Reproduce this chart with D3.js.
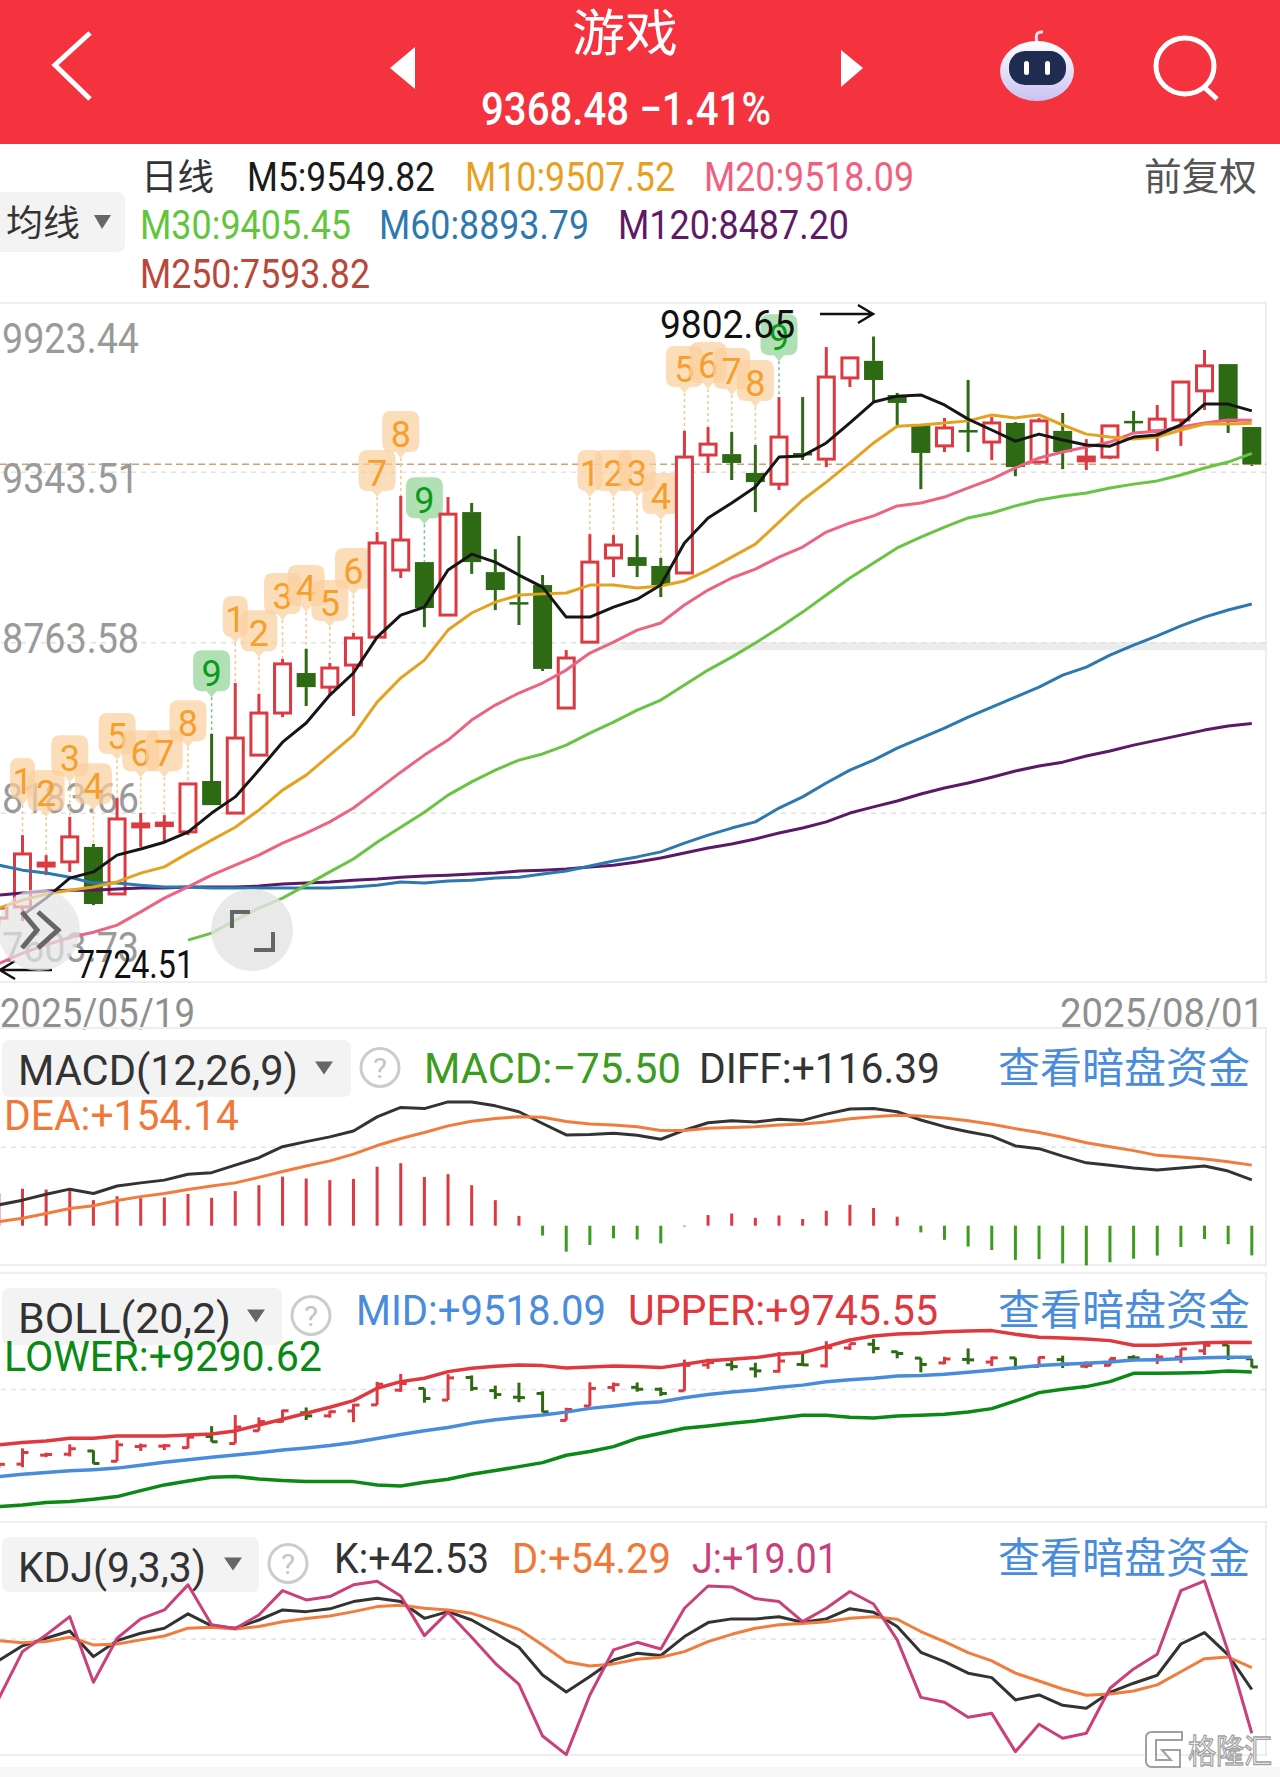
<!DOCTYPE html>
<html>
<head>
<meta charset="utf-8">
<script src="https://cdn.jsdelivr.net/npm/d3@7"></script>
<style>
	html, body { margin: 0; padding: 0; background: #fff; }
	svg { display: block; }
</style>
</head>
<body>
<svg id="canvas" width="1280" height="1777"></svg>
<script>
// every series runs from the half hidden first candle up to 2025/08/01
var open = [7826,7864,8003,8017,8068,7908,8136,8142,8119,8292,8183,8380,8523,8659,8611,8686,8781,9009,9036,8856,9206,9002,8900,8958,8540,8764,9050,9053,9023,8999,9400,9403,9339,9301,9407,9386,9662,9720,9604,9505,9431,9485,9444,9509,9376,9482,9380,9393,9516,9482,9519,9618,9709,9495];
var close = [7860,8044,8013,8102,7874,8163,8146,8149,8282,8210,8438,8523,8690,8611,8676,8778,9101,9111,8880,9199,9036,8941,8894,8673,8710,9036,9094,9023,8958,9393,9437,9373,9308,9461,9400,9665,9730,9655,9577,9407,9492,9478,9509,9359,9516,9410,9393,9499,9509,9522,9648,9703,9512,9368.48];
var high = [7860,8108,8040,8170,8078,8234,8183,8176,8285,8452,8625,8588,8707,8741,8693,8795,9138,9261,9036,9257,9237,9080,9125,8992,8737,9131,9128,9128,9050,9482,9495,9478,9434,9597,9597,9767,9730,9802.65,9611,9505,9526,9655,9529,9512,9526,9543,9454,9499,9550,9570,9648,9757,9709,9495];
var low = [7802,7816,7972,7983,7870,7908,8068,8081,8108,8210,8183,8380,8509,8547,8584,8513,8781,8982,8815,8856,8996,8873,8822,8666,8540,8764,8985,8985,8917,8999,9339,9315,9206,9281,9383,9359,9631,9580,9502,9284,9410,9410,9383,9328,9376,9352,9349,9386,9475,9413,9431,9553,9475,9363];

var m5 = [null,7836,7894,7962,7983,8040,8061,8084,8118,8183,8238,8329,8424,8489,8584,8659,8781,8856,8883,9009,9063,9036,8992,8951,8849,8849,8883,8910,8958,9101,9186,9237,9291,9393,9397,9441,9509,9580,9600,9604,9570,9522,9485,9447,9471,9451,9434,9430,9461,9468,9502,9573,9573,9549.82];
var m10 = [7860,7887,7908,7921,7932,7949,7979,8000,8047,8091,8135,8193,8261,8312,8380,8448,8560,8642,8703,8805,8863,8900,8924,8928,8931,8958,8958,8948,8955,8972,9009,9053,9097,9172,9247,9308,9373,9441,9498,9502,9509,9516,9536,9526,9536,9502,9471,9461,9454,9461,9485,9505,9505,9507.52];
var m20 = [7671,7707,7735,7760,7778,7802,7847,7894,7932,7972,8006,8040,8081,8115,8153,8200,8261,8322,8380,8431,8499,8550,8591,8625,8669,8727,8764,8805,8829,8890,8941,8982,9012,9053,9087,9138,9169,9193,9227,9237,9257,9288,9318,9356,9390,9410,9427,9444,9475,9481,9495,9509,9519,9518.09];
var m30 = [null,null,null,null,null,null,null,null,7751,7775,7819,7860,7894,7938,7983,8027,8084,8135,8186,8244,8289,8329,8363,8384,8414,8455,8492,8533,8567,8618,8669,8713,8761,8812,8866,8924,8982,9033,9084,9121,9155,9186,9203,9227,9247,9261,9271,9288,9301,9312,9332,9356,9376,9405.45];
var m60 = [8006,7989,7979,7965,7945,7945,7938,7932,7932,7928,7928,7928,7928,7928,7928,7932,7938,7949,7945,7952,7955,7962,7965,7976,7986,8003,8020,8034,8051,8081,8108,8132,8153,8200,8238,8285,8329,8363,8404,8438,8472,8509,8543,8577,8611,8652,8679,8720,8754,8785,8819,8849,8873,8893.79];
var m120 = [7904,7911,7918,7921,7921,7925,7928,7928,7932,7932,7932,7935,7942,7945,7949,7955,7959,7965,7969,7972,7976,7979,7986,7989,7993,8000,8006,8017,8030,8047,8064,8078,8095,8115,8132,8153,8183,8204,8224,8248,8268,8285,8305,8326,8343,8356,8377,8394,8414,8431,8448,8465,8479,8487.20];

var diff = [53,65,80,93,82,101,109,116,131,135,154,173,201,214,226,241,277,301,298,315,315,305,290,260,231,232,235,230,220,243,262,267,264,271,268,284,297,298,290,269,252,239,228,203,196,177,160,154,147,142,147,152,139,116.39];
var dea = [10,19,31,44,51,64,74,82,92,101,109,123,138,152,165,182,204,222,237,254,266,273,277,276,265,259,256,252,242,242,248,250,252,256,259,264,272,277,281,279,274,267,258,247,237,225,211,201,191,179,175,170,163,154.14];
var macd = [82,94,92,92,65,75,70,72,81,71,88,103,125,120,116,119,150,159,124,131,103,65,25,-25,-66,-49,-32,-35,-45,-2,27,31,20,26,17,38,53,45,23,-17,-36,-53,-62,-87,-85,-96,-101,-93,-84,-76,-54,-34,-47,-75.50];

var upper = [8161,8197,8223,8264,8264,8300,8300,8300,8316,8331,8378,8470,8558,8651,8744,8847,9038,9141,9193,9296,9348,9379,9399,9389,9353,9368,9384,9374,9358,9410,9466,9487,9513,9564,9590,9683,9786,9848,9879,9890,9915,9926,9931,9874,9828,9817,9802,9776,9704,9704,9724,9745,9750,9745.55];
var lower = [7206,7232,7268,7284,7320,7361,7454,7542,7604,7660,7671,7635,7609,7593,7593,7593,7542,7526,7583,7630,7707,7764,7825,7887,8001,8058,8135,8264,8342,8419,8455,8496,8532,8579,8620,8620,8589,8579,8610,8620,8636,8672,8723,8842,8971,9023,9064,9141,9270,9270,9275,9281,9306,9290.62];

var kdjK = [58.1,66.0,70.1,74.0,60.2,68.8,72.8,75.5,83.2,76.7,75.5,79.9,85.3,84.4,85.9,89.8,91.6,89.8,80.8,84.4,79.9,72.8,65.2,50.3,41.2,49.5,58.4,62.0,60.8,71.0,78.5,80.5,80.5,81.6,78.7,80.5,86.0,84.1,76.4,62.5,57.5,51.3,48.9,36.9,39.6,34.0,32.4,41.0,45.9,50.2,67.0,73.1,61.1,42.53];
var kdjD = [68.8,67.7,68.3,70.6,66.5,67.0,69.2,71.3,75.5,76.0,75.1,76.4,79.0,80.7,82.1,84.4,87.1,87.8,86.2,85.3,83.5,79.4,74.9,66.5,57.5,55.2,56.3,58.8,59.9,62.9,68.3,72.2,75.5,77.3,78.0,79.0,80.8,81.7,80.3,73.7,68.3,62.4,57.9,51.3,47.1,42.8,39.4,40.1,41.7,45.0,52.1,59.1,60.0,54.29];
var kdjJ = [37.8,62.9,71.9,81.7,46.4,70.1,80.5,85.3,98.8,77.3,75.3,82.6,95.7,90.7,92.5,98.8,100.7,92.8,71.5,84.1,70.6,56.6,45.3,17.5,7.5,39.6,63.8,67.9,64.3,86.2,98.2,97.7,91.4,89.8,79.0,86.2,95.2,88.5,69.2,38.3,35.7,27.6,29.7,9.1,23.8,16.3,19.0,43.2,53.6,61.5,95.7,100.9,62.9,19.01];

// numbered tags sitting above the candles, tagPrice is where the tip points at
var tagDay = [0,1,2,3,4,5,6,7,8,9,10,11,12,13,14,15,16,17,24,25,26,27,28,29,30,31,32];
var tagNum = [1,2,3,4,5,6,7,8,9,1,2,3,4,5,6,7,8,9,1,2,3,4,5,6,7,8,9];
var tagPrice = [8210,8170,8288,8193,8363,8305,8305,8407,8577,8761,8713,8839,8866,8815,8924,9257,9390,9165,9257,9257,9257,9179,9611,9624,9604,9563,9719];

var priceTicks = [9923.44,9343.51,8763.58,8183.66,7603.73];
var dateLabels = ["2025/05/19","2025/08/01"];

var RED = "#dc3a42", DARK_GREEN = "#2e6a14", BAR_GREEN = "#3c9c20";
var LATIN = "Roboto, sans-serif", CJK = "'Noto Sans CJK SC', sans-serif";
var RIGHT = 1266;

var svg = d3.select("#canvas");
var days = d3.range(54);

var x = d3.scaleLinear().domain([0, 53]).range([-1.14, 1251.8]);
var y = d3.scaleLinear().domain([7603.73, 9923.44]).range([983.5, 301]);
var yMacd = d3.scaleLinear().domain([-100, 498]).range([1265, 1030]);
var yBoll = d3.scaleLinear().domain([7200, 10823]).range([1507, 1273]);
var yKdj = d3.scaleLinear().domain([7.3, 132.6]).range([1755, 1522]);

// label with its width pinned, the screenshot text is squeezed sideways
function label(px, baseline, str, size, color, width, family) {
	var t = svg.append("text")
		.attr("x", px).attr("y", baseline)
		.attr("font-family", family || LATIN)
		.attr("font-size", size)
		.attr("fill", color)
		.text(str);
	if (width) {
		t.attr("textLength", width).attr("lengthAdjust", "spacingAndGlyphs");
	}
	return t;
}

function drawLine(values, scale, color, width) {
	var line = d3.line()
		.defined(function(d) { return values[d] !== null; })
		.x(function(d) { return x(d); })
		.y(function(d) { return scale(values[d]); });
	svg.append("path")
		.attr("d", line(days))
		.attr("fill", "none")
		.attr("stroke", color)
		.attr("stroke-width", width)
		.attr("stroke-linejoin", "round");
}

function grid(scale, values) {
	var axis = d3.axisLeft(scale).tickValues(values).tickSize(RIGHT).tickFormat("");
	var g = svg.append("g").attr("transform", "translate(" + RIGHT + ",0)").call(axis);
	g.select(".domain").remove();
	g.selectAll("line")
		.attr("stroke", "#e2e2e2")
		.attr("stroke-width", 1.5)
		.attr("stroke-dasharray", "5 5");
}

function panelFrame(top, bottom) {
	svg.append("rect")
		.attr("x", -3).attr("y", top)
		.attr("width", RIGHT + 3).attr("height", bottom - top)
		.attr("fill", "none")
		.attr("stroke", "#eeeeee")
		.attr("stroke-width", 2);
}

function dropdown(boxW, top, boxH, str, textW, baseline, triX, helpX) {
	svg.append("rect")
		.attr("x", 2).attr("y", top)
		.attr("width", boxW).attr("height", boxH)
		.attr("rx", 7)
		.attr("fill", "#f3f3f3");
	label(18, baseline, str, 43, "#333333", textW);
	var my = top + boxH / 2 - 1;
	svg.append("path")
		.attr("d", "M" + (triX - 9) + " " + (my - 6) + "L" + (triX + 9) + " " + (my - 6) + "L" + triX + " " + (my + 7) + "Z")
		.attr("fill", "#666666");
	svg.append("circle")
		.attr("cx", helpX).attr("cy", my)
		.attr("r", 19)
		.attr("fill", "#fff")
		.attr("stroke", "#cccccc")
		.attr("stroke-width", 3);
	label(helpX - 7, my + 10, "?", 28, "#c4c4c4", 14);
}

function moneyLink(baseline) {
	label(998, baseline, "查看暗盘资金", 42, "#4a8cdc", 252, CJK);
}

function tagPath(cx, tip, w) {
	var h = 47, r = 9, t = 6;
	var l = cx - w / 2, rr = cx + w / 2, top = tip - h, bot = tip - t;
	return "M" + (l + r) + " " + top +
		"L" + (rr - r) + " " + top +
		"Q" + rr + " " + top + " " + rr + " " + (top + r) +
		"L" + rr + " " + (bot - r) +
		"Q" + rr + " " + bot + " " + (rr - r) + " " + bot +
		"L" + (cx + 5) + " " + bot +
		"L" + cx + " " + tip +
		"L" + (cx - 5) + " " + bot +
		"L" + (l + r) + " " + bot +
		"Q" + l + " " + bot + " " + l + " " + (bot - r) +
		"L" + l + " " + (top + r) +
		"Q" + l + " " + top + " " + (l + r) + " " + top + "Z";
}

// ---- header ----
svg.append("rect").attr("width", 1280).attr("height", 144).attr("fill", "#f4333e");
label(572, 51, "游戏", 50, "#fff", 106, CJK);
label(481, 125, "9368.48 −1.41%", 46, "#fff", 290).attr("font-weight", 500);

svg.append("path").attr("d", "M90 33L55 65L90 99").attr("fill", "none").attr("stroke", "#fff").attr("stroke-width", 5);
svg.append("path").attr("d", "M415 47L390 68L415 89Z").attr("fill", "#fff");
svg.append("path").attr("d", "M841 50L863 68L841 87Z").attr("fill", "#fff");

// robot
var robotFill = svg.append("defs").append("linearGradient").attr("id", "robot").attr("x2", 0).attr("y2", 1);
robotFill.append("stop").attr("offset", "0").attr("stop-color", "#ffffff");
robotFill.append("stop").attr("offset", "1").attr("stop-color", "#c9c2f2");
svg.append("path").attr("d", "M1037 42Q1034 31 1043 32").attr("fill", "none").attr("stroke", "#e8e4fb").attr("stroke-width", 3);
svg.append("ellipse").attr("cx", 1037).attr("cy", 71).attr("rx", 37).attr("ry", 30).attr("fill", "url(#robot)");
svg.append("rect").attr("x", 1009).attr("y", 51).attr("width", 57).attr("height", 34).attr("rx", 16).attr("fill", "#1f2c52");
svg.append("rect").attr("x", 1024).attr("y", 61).attr("width", 5).attr("height", 14).attr("rx", 2.5).attr("fill", "#fff");
svg.append("rect").attr("x", 1045).attr("y", 61).attr("width", 5).attr("height", 14).attr("rx", 2.5).attr("fill", "#fff");

// search
svg.append("ellipse").attr("cx", 1185).attr("cy", 66).attr("rx", 29).attr("ry", 28).attr("fill", "none").attr("stroke", "#fff").attr("stroke-width", 5);
svg.append("path").attr("d", "M1204 87L1217 99").attr("stroke", "#fff").attr("stroke-width", 5);

// ---- legends of the main panel ----
label(141, 190, "日线", 36, "#333333", 73, CJK);
label(247, 191, "M5:9549.82", 40, "#1a1a1a", 188);
label(465, 191, "M10:9507.52", 40, "#e8a11f", 210);
label(704, 191, "M20:9518.09", 40, "#f0607e", 210);
label(1144, 190, "前复权", 38, "#555555", 113, CJK);

svg.append("rect").attr("x", -8).attr("y", 192).attr("width", 133).attr("height", 60).attr("rx", 7).attr("fill", "#f3f3f3");
label(6, 236, "均线", 36, "#333333", 74, CJK);
svg.append("path").attr("d", "M94 215L111 215L102 229Z").attr("fill", "#666666");

label(140, 239, "M30:9405.45", 40, "#62c63c", 211);
label(379, 239, "M60:8893.79", 40, "#2e78b0", 210);
label(618, 239, "M120:8487.20", 40, "#5e1a66", 231);
label(140, 288, "M250:7593.82", 40, "#b8483a", 230);

// ---- main panel ----
panelFrame(303, 982);

var fade = svg.append("defs").append("linearGradient").attr("id", "band");
fade.append("stop").attr("offset", "0").attr("stop-color", "#ececec").attr("stop-opacity", 0);
fade.append("stop").attr("offset", "0.06").attr("stop-color", "#ececec").attr("stop-opacity", 1);
svg.append("rect")
	.attr("x", 590).attr("y", y(8763.58))
	.attr("width", RIGHT - 590).attr("height", 8)
	.attr("fill", "url(#band)");

grid(y, priceTicks.slice(1, 4));

svg.append("line")
	.attr("x1", 0).attr("x2", RIGHT)
	.attr("y1", y(close[53])).attr("y2", y(close[53]))
	.attr("stroke", "#c9a377")
	.attr("stroke-width", 1.5)
	.attr("stroke-dasharray", "7 4");

var labelShift = [52, 21, 11, 0, -22];
priceTicks.forEach(function(t, i) {
	label(2, y(t) + labelShift[i], d3.format(".2f")(t), 42, "#9a9a9a", 137);
});

// tags and their dashed leaders
tagDay.forEach(function(d, i) {
	var day = d + 1;
	var green = tagNum[i] === 9;
	var tip = y(tagPrice[i]);
	svg.append("line")
		.attr("x1", x(day)).attr("x2", x(day))
		.attr("y1", tip).attr("y2", y(high[day]))
		.attr("stroke", green ? "#7cbf8a" : "#f6c78e")
		.attr("stroke-width", 1.5)
		.attr("stroke-dasharray", "3 3");
	svg.append("path")
		.attr("d", tagPath(x(day), tip, tagNum[i] === 1 ? 25 : 37))
		.attr("fill", green ? "#a5dba8" : "#fbcf9c")
		.attr("fill-opacity", green ? 0.85 : 0.7);
	svg.append("text")
		.attr("x", x(day)).attr("y", tip - 11)
		.attr("text-anchor", "middle")
		.attr("font-family", LATIN)
		.attr("font-size", 36)
		.attr("fill", green ? "#0b9a1c" : "#f5a02e")
		.text(tagNum[i]);
});

// candles
var candle = svg.append("g").selectAll("g").data(days).enter().append("g");

candle.append("line")
	.attr("x1", function(d) { return x(d); })
	.attr("x2", function(d) { return x(d); })
	.attr("y1", function(d) { return y(high[d]); })
	.attr("y2", function(d) { return y(Math.max(open[d], close[d])); })
	.attr("stroke", function(d) { return close[d] >= open[d] ? RED : DARK_GREEN; })
	.attr("stroke-width", 3);
candle.append("line")
	.attr("x1", function(d) { return x(d); })
	.attr("x2", function(d) { return x(d); })
	.attr("y1", function(d) { return y(Math.min(open[d], close[d])); })
	.attr("y2", function(d) { return y(low[d]); })
	.attr("stroke", function(d) { return close[d] >= open[d] ? RED : DARK_GREEN; })
	.attr("stroke-width", 3);
candle.append("rect")
	.attr("x", function(d) {
		return x(d) - (close[d] >= open[d] ? 8 : 9.5);
	})
	.attr("y", function(d) { return y(Math.max(open[d], close[d])); })
	.attr("width", function(d) { return close[d] >= open[d] ? 16 : 19; })
	.attr("height", function(d) { return Math.max(2.5, Math.abs(y(open[d]) - y(close[d]))); })
	.attr("fill", function(d) {
		if (close[d] < open[d]) return DARK_GREEN;
		return Math.abs(y(open[d]) - y(close[d])) < 6 ? RED : "#fff";
	})
	.attr("stroke", function(d) { return close[d] >= open[d] ? RED : "none"; })
	.attr("stroke-width", 3);

drawLine(m120, y, "#5a1a66", 3);
drawLine(m60, y, "#2e78b0", 3);
drawLine(m30, y, "#68c442", 3);
drawLine(m20, y, "#ec6480", 3);
drawLine(m10, y, "#e5a21f", 3);
drawLine(m5, y, "#161616", 3);

// extremes with arrows
label(660, 338, "9802.65", 39, "#111111", 135);
svg.append("path").attr("d", "M820 314L873 314M858 305L873 314L858 323").attr("fill", "none").attr("stroke", "#111111").attr("stroke-width", 2.5);
label(77, 978, "7724.51", 39, "#111111", 117);
svg.append("path").attr("d", "M52 970L0 970M15 961L0 970L15 979").attr("fill", "none").attr("stroke", "#111111").attr("stroke-width", 2.5);

// round floating buttons
svg.append("circle").attr("cx", 39).attr("cy", 930).attr("r", 41).attr("fill", "#e4e4e4").attr("fill-opacity", 0.7);
svg.append("path").attr("d", "M22 912L37 930L22 948M38 912L58 930L38 948").attr("fill", "none").attr("stroke", "#666666").attr("stroke-width", 5);
svg.append("circle").attr("cx", 252).attr("cy", 930).attr("r", 41).attr("fill", "#e4e4e4").attr("fill-opacity", 0.8);
svg.append("path").attr("d", "M250 912L232 912L232 928M254 950L273 950L273 932").attr("fill", "none").attr("stroke", "#666666").attr("stroke-width", 4);

label(0, 1027, dateLabels[0], 41, "#8f8f8f", 195);
label(1060, 1027, dateLabels[1], 41, "#8f8f8f", 204);

// ---- MACD ----
panelFrame(1028, 1265);
grid(yMacd, [201]);
dropdown(349, 1040, 57, "MACD(12,26,9)", 280, 1085, 324, 380);
label(424, 1083, "MACD:−75.50", 43, BAR_GREEN, 257);
label(699, 1083, "DIFF:+116.39", 43, "#333333", 241);
moneyLink(1083);
label(4, 1130, "DEA:+154.14", 43, "#f07838", 235);

svg.append("g").selectAll("rect").data(days).enter().append("rect")
	.attr("x", function(d) { return x(d) - 1.5; })
	.attr("y", function(d) { return yMacd(Math.max(0, macd[d])); })
	.attr("width", 3)
	.attr("height", function(d) { return Math.abs(yMacd(macd[d]) - yMacd(0)); })
	.attr("fill", function(d) { return macd[d] >= 0 ? RED : BAR_GREEN; });
drawLine(diff, yMacd, "#333333", 3);
drawLine(dea, yMacd, "#f07c3e", 3);

// ---- BOLL ----
panelFrame(1273, 1507);
grid(yBoll, [9026]);
dropdown(280, 1288, 57, "BOLL(20,2)", 213, 1333, 256, 311);
label(356, 1325, "MID:+9518.09", 43, "#4a8cdc", 250);
label(628, 1325, "UPPER:+9745.55", 43, "#e0383e", 310);
moneyLink(1325);
label(4, 1371, "LOWER:+9290.62", 43, "#0a8a14", 318);

// small open-high-low-close bars
var bar = svg.append("g").selectAll("g").data(days).enter().append("g")
	.attr("stroke", function(d) { return close[d] >= open[d] ? RED : DARK_GREEN; })
	.attr("stroke-width", 3);
bar.append("line")
	.attr("x1", function(d) { return x(d); })
	.attr("x2", function(d) { return x(d); })
	.attr("y1", function(d) { return yBoll(high[d]); })
	.attr("y2", function(d) { return yBoll(low[d]); });
bar.append("line")
	.attr("x1", function(d) { return x(d) - 6; })
	.attr("x2", function(d) { return x(d); })
	.attr("y1", function(d) { return yBoll(open[d]); })
	.attr("y2", function(d) { return yBoll(open[d]); });
bar.append("line")
	.attr("x1", function(d) { return x(d); })
	.attr("x2", function(d) { return x(d) + 6; })
	.attr("y1", function(d) { return yBoll(close[d]); })
	.attr("y2", function(d) { return yBoll(close[d]); });

drawLine(upper, yBoll, "#e0383e", 3.5);
drawLine(m20, yBoll, "#4a8cdc", 3.5);
drawLine(lower, yBoll, "#0a8a14", 3.5);

// ---- KDJ ----
panelFrame(1522, 1755);
grid(yKdj, [70]);
dropdown(257, 1537, 55, "KDJ(9,3,3)", 188, 1582, 233, 288);
label(334, 1573, "K:+42.53", 43, "#333333", 155);
label(512, 1573, "D:+54.29", 43, "#f07838", 159);
label(692, 1573, "J:+19.01", 43, "#c9407a", 146);
moneyLink(1573);

drawLine(kdjK, yKdj, "#333333", 3);
drawLine(kdjD, yKdj, "#f07c3e", 3);
drawLine(kdjJ, yKdj, "#c9407a", 3);

svg.append("rect").attr("y", 1767).attr("width", 1280).attr("height", 10).attr("fill", "#f6f6f6");

// watermark
svg.append("path")
	.attr("d", "M1182 1732L1152 1732Q1146 1732 1146 1738L1146 1761Q1146 1767 1152 1767L1180 1767L1180 1750L1162 1750L1171 1760L1156 1760L1156 1740L1182 1740Z")
	.attr("fill", "#fff")
	.attr("fill-opacity", 0.9)
	.attr("stroke", "#a0a0a0")
	.attr("stroke-width", 2);
label(1188, 1763, "格隆汇", 33, "#ffffff", 84, CJK)
	.attr("stroke", "#a0a0a0")
	.attr("stroke-width", 1.3);
</script>
</body>
</html>
